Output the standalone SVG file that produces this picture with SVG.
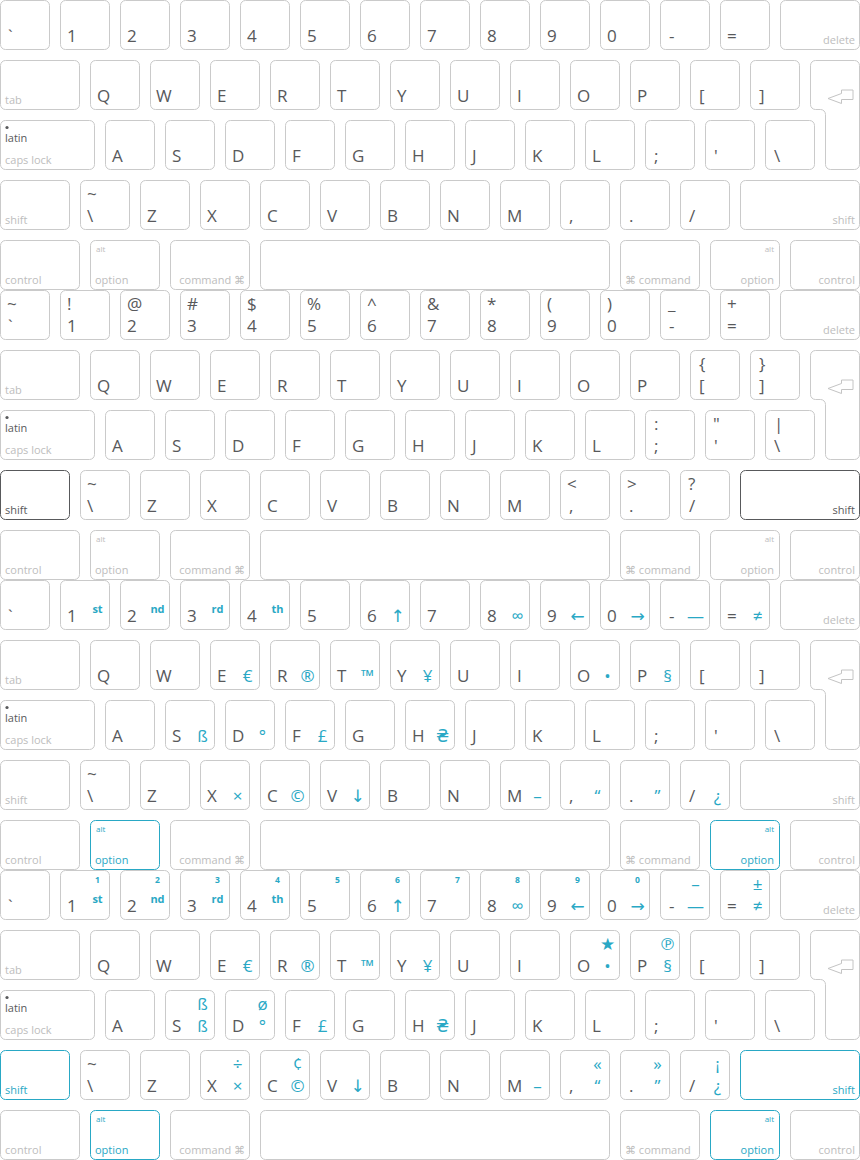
<svg xmlns="http://www.w3.org/2000/svg" width="860" height="1160" viewBox="0 0 860 1160">
<style>
text{font-family:"Open Sans","DejaVu Sans",sans-serif}
.k{fill:#fff;stroke:#cacaca;stroke-width:1}
.kd{fill:#fff;stroke:#58595b;stroke-width:1}
.kt{fill:#fff;stroke:#29a8c5;stroke-width:1}
.ar{fill:none;stroke:#c4c4c4;stroke-width:1;stroke-linejoin:round}
.m{font-size:17px;fill:#58595b}
.g{font-size:11px;fill:#bdbdbd}
.ge{font-size:11px;fill:#bdbdbd;text-anchor:end}
.a{font-size:8px;fill:#bdbdbd}
.ae{font-size:8px;fill:#bdbdbd;text-anchor:end}
.lt{font-size:11px;fill:#58595b}
.dk{fill:#58595b}
.tl{fill:#29a8c5}
.t{font-size:17px;fill:#29a8c5;text-anchor:middle}
.ts{font-size:11px;font-weight:700;fill:#29a8c5;text-anchor:middle}
.tn{font-size:8.5px;font-weight:700;fill:#29a8c5;text-anchor:middle}
</style>
<defs>
<rect id="r50" class="k" x=".5" y=".5" width="49" height="49" rx="5"/>
<rect id="r70" class="k" x=".5" y=".5" width="69" height="49" rx="5"/>
<rect id="r80" class="k" x=".5" y=".5" width="79" height="49" rx="5"/>
<rect id="r95" class="k" x=".5" y=".5" width="94" height="49" rx="5"/>
<rect id="r120" class="k" x=".5" y=".5" width="119" height="49" rx="5"/>
<rect id="r350" class="k" x=".5" y=".5" width="349" height="49" rx="5"/>
<path id="ret" class="k" d="M815.5 60.5H854.5A5 5 0 0 1 859.5 65.5V164.5A5 5 0 0 1 854.5 169.5H830.5A5 5 0 0 1 825.5 164.5V114.5A5 5 0 0 0 820.5 109.5H815.5A5 5 0 0 1 810.5 104.5V65.5A5 5 0 0 1 815.5 60.5Z"/>
<path id="arr" class="ar" d="M828 98.5L841.5 93.5V90H853V99.5H841.5V103.5Z"/>
</defs>

<!-- Keyboard 1 : base layer -->
<g id="kb1">
<g id="kb1-grave" transform="translate(0,0)"><use href="#r50"/><text class="m" x="8" y="42">`</text></g>
<g id="kb1-1" transform="translate(60,0)"><use href="#r50"/><text class="m" x="7" y="42">1</text></g>
<g id="kb1-2" transform="translate(120,0)"><use href="#r50"/><text class="m" x="7" y="42">2</text></g>
<g id="kb1-3" transform="translate(180,0)"><use href="#r50"/><text class="m" x="7" y="42">3</text></g>
<g id="kb1-4" transform="translate(240,0)"><use href="#r50"/><text class="m" x="7" y="42">4</text></g>
<g id="kb1-5" transform="translate(300,0)"><use href="#r50"/><text class="m" x="7" y="42">5</text></g>
<g id="kb1-6" transform="translate(360,0)"><use href="#r50"/><text class="m" x="7" y="42">6</text></g>
<g id="kb1-7" transform="translate(420,0)"><use href="#r50"/><text class="m" x="7" y="42">7</text></g>
<g id="kb1-8" transform="translate(480,0)"><use href="#r50"/><text class="m" x="7" y="42">8</text></g>
<g id="kb1-9" transform="translate(540,0)"><use href="#r50"/><text class="m" x="7" y="42">9</text></g>
<g id="kb1-0" transform="translate(600,0)"><use href="#r50"/><text class="m" x="7" y="42">0</text></g>
<g id="kb1-minus" transform="translate(660,0)"><use href="#r50"/><text class="m" x="9" y="42">-</text></g>
<g id="kb1-equal" transform="translate(720,0)"><use href="#r50"/><text class="m" x="7" y="42">=</text></g>
<g id="kb1-delete" transform="translate(780,0)"><use href="#r80"/><text class="ge" x="75" y="44">delete</text></g>
<g id="kb1-tab" transform="translate(0,60)"><use href="#r80"/><text class="g" x="5" y="44">tab</text></g>
<g id="kb1-q" transform="translate(90,60)"><use href="#r50"/><text class="m" x="7" y="42">Q</text></g>
<g id="kb1-w" transform="translate(150,60)"><use href="#r50"/><text class="m" x="6" y="42">W</text></g>
<g id="kb1-e" transform="translate(210,60)"><use href="#r50"/><text class="m" x="7" y="42">E</text></g>
<g id="kb1-r" transform="translate(270,60)"><use href="#r50"/><text class="m" x="7" y="42">R</text></g>
<g id="kb1-t" transform="translate(330,60)"><use href="#r50"/><text class="m" x="7" y="42">T</text></g>
<g id="kb1-y" transform="translate(390,60)"><use href="#r50"/><text class="m" x="7" y="42">Y</text></g>
<g id="kb1-u" transform="translate(450,60)"><use href="#r50"/><text class="m" x="7" y="42">U</text></g>
<g id="kb1-i" transform="translate(510,60)"><use href="#r50"/><text class="m" x="7" y="42">I</text></g>
<g id="kb1-o" transform="translate(570,60)"><use href="#r50"/><text class="m" x="7" y="42">O</text></g>
<g id="kb1-p" transform="translate(630,60)"><use href="#r50"/><text class="m" x="7" y="42">P</text></g>
<g id="kb1-lbr" transform="translate(690,60)"><use href="#r50"/><text class="m" x="9" y="42">[</text></g>
<g id="kb1-rbr" transform="translate(750,60)"><use href="#r50"/><text class="m" x="9" y="42">]</text></g>
<g id="kb1-return"><use href="#ret"/><use href="#arr"/></g>
<g id="kb1-caps" transform="translate(0,120)"><use href="#r95"/><circle cx="7" cy="7.5" r="1.6" fill="#58595b"/><text class="lt" x="5" y="21.5">latin</text><text class="g" x="5" y="44">caps lock</text></g>
<g id="kb1-a" transform="translate(105,120)"><use href="#r50"/><text class="m" x="7" y="42">A</text></g>
<g id="kb1-s" transform="translate(165,120)"><use href="#r50"/><text class="m" x="7" y="42">S</text></g>
<g id="kb1-d" transform="translate(225,120)"><use href="#r50"/><text class="m" x="7" y="42">D</text></g>
<g id="kb1-f" transform="translate(285,120)"><use href="#r50"/><text class="m" x="7" y="42">F</text></g>
<g id="kb1-g" transform="translate(345,120)"><use href="#r50"/><text class="m" x="7" y="42">G</text></g>
<g id="kb1-h" transform="translate(405,120)"><use href="#r50"/><text class="m" x="7" y="42">H</text></g>
<g id="kb1-j" transform="translate(465,120)"><use href="#r50"/><text class="m" x="7" y="42">J</text></g>
<g id="kb1-k" transform="translate(525,120)"><use href="#r50"/><text class="m" x="7" y="42">K</text></g>
<g id="kb1-l" transform="translate(585,120)"><use href="#r50"/><text class="m" x="7" y="42">L</text></g>
<g id="kb1-semi" transform="translate(645,120)"><use href="#r50"/><text class="m" x="9" y="42">;</text></g>
<g id="kb1-quote" transform="translate(705,120)"><use href="#r50"/><text class="m" x="9" y="42">'</text></g>
<g id="kb1-bslash" transform="translate(765,120)"><use href="#r50"/><text class="m" x="9" y="42">\</text></g>
<g id="kb1-lshift" transform="translate(0,180)"><use href="#r70"/><text class="g" x="5" y="44">shift</text></g>
<g id="kb1-tilde" transform="translate(80,180)"><use href="#r50"/><text class="m" x="7" y="20">~</text><text class="m" x="7" y="42">\</text></g>
<g id="kb1-z" transform="translate(140,180)"><use href="#r50"/><text class="m" x="7" y="42">Z</text></g>
<g id="kb1-x" transform="translate(200,180)"><use href="#r50"/><text class="m" x="7" y="42">X</text></g>
<g id="kb1-c" transform="translate(260,180)"><use href="#r50"/><text class="m" x="7" y="42">C</text></g>
<g id="kb1-v" transform="translate(320,180)"><use href="#r50"/><text class="m" x="7" y="42">V</text></g>
<g id="kb1-b" transform="translate(380,180)"><use href="#r50"/><text class="m" x="7" y="42">B</text></g>
<g id="kb1-n" transform="translate(440,180)"><use href="#r50"/><text class="m" x="7" y="42">N</text></g>
<g id="kb1-m" transform="translate(500,180)"><use href="#r50"/><text class="m" x="7" y="42">M</text></g>
<g id="kb1-comma" transform="translate(560,180)"><use href="#r50"/><text class="m" x="9" y="42">,</text></g>
<g id="kb1-period" transform="translate(620,180)"><use href="#r50"/><text class="m" x="9" y="42">.</text></g>
<g id="kb1-slash" transform="translate(680,180)"><use href="#r50"/><text class="m" x="9" y="42">/</text></g>
<g id="kb1-rshift" transform="translate(740,180)"><use href="#r120"/><text class="ge" x="115" y="44">shift</text></g>
<g id="kb1-lctrl" transform="translate(0,240)"><use href="#r80"/><text class="g" x="5" y="43.5">control</text></g>
<g id="kb1-lopt" transform="translate(90,240)"><use href="#r70"/><text class="a" x="6" y="12">alt</text><text class="g" x="5" y="43.5">option</text></g>
<g id="kb1-lcmd" transform="translate(170,240)"><use href="#r80"/><text class="ge" x="75" y="43.5">command ⌘</text></g>
<g id="kb1-space" transform="translate(260,240)"><use href="#r350"/></g>
<g id="kb1-rcmd" transform="translate(620,240)"><use href="#r80"/><text class="g" x="5" y="43.5">⌘ command</text></g>
<g id="kb1-ropt" transform="translate(710,240)"><use href="#r70"/><text class="ae" x="64" y="12">alt</text><text class="ge" x="64" y="43.5">option</text></g>
<g id="kb1-rctrl" transform="translate(790,240)"><use href="#r70"/><text class="ge" x="65" y="43.5">control</text></g>
</g>

<!-- Keyboard 2 : shift layer -->
<g id="kb2" transform="translate(0,290)">
<g id="kb2-grave" transform="translate(0,0)"><use href="#r50"/><text class="m" x="7" y="20">~</text><text class="m" x="8" y="42">`</text></g>
<g id="kb2-1" transform="translate(60,0)"><use href="#r50"/><text class="m" x="7" y="20">!</text><text class="m" x="7" y="42">1</text></g>
<g id="kb2-2" transform="translate(120,0)"><use href="#r50"/><text class="m" x="7" y="20">@</text><text class="m" x="7" y="42">2</text></g>
<g id="kb2-3" transform="translate(180,0)"><use href="#r50"/><text class="m" x="7" y="20">#</text><text class="m" x="7" y="42">3</text></g>
<g id="kb2-4" transform="translate(240,0)"><use href="#r50"/><text class="m" x="7" y="20">$</text><text class="m" x="7" y="42">4</text></g>
<g id="kb2-5" transform="translate(300,0)"><use href="#r50"/><text class="m" x="7" y="20">%</text><text class="m" x="7" y="42">5</text></g>
<g id="kb2-6" transform="translate(360,0)"><use href="#r50"/><text class="m" x="7" y="20">^</text><text class="m" x="7" y="42">6</text></g>
<g id="kb2-7" transform="translate(420,0)"><use href="#r50"/><text class="m" x="7" y="20">&amp;</text><text class="m" x="7" y="42">7</text></g>
<g id="kb2-8" transform="translate(480,0)"><use href="#r50"/><text class="m" x="7" y="20">*</text><text class="m" x="7" y="42">8</text></g>
<g id="kb2-9" transform="translate(540,0)"><use href="#r50"/><text class="m" x="7" y="20">(</text><text class="m" x="7" y="42">9</text></g>
<g id="kb2-0" transform="translate(600,0)"><use href="#r50"/><text class="m" x="7" y="20">)</text><text class="m" x="7" y="42">0</text></g>
<g id="kb2-minus" transform="translate(660,0)"><use href="#r50"/><text class="m" x="8" y="20">_</text><text class="m" x="9" y="42">-</text></g>
<g id="kb2-equal" transform="translate(720,0)"><use href="#r50"/><text class="m" x="7" y="20">+</text><text class="m" x="7" y="42">=</text></g>
<g id="kb2-delete" transform="translate(780,0)"><use href="#r80"/><text class="ge" x="75" y="44">delete</text></g>
<g id="kb2-tab" transform="translate(0,60)"><use href="#r80"/><text class="g" x="5" y="44">tab</text></g>
<g id="kb2-q" transform="translate(90,60)"><use href="#r50"/><text class="m" x="7" y="42">Q</text></g>
<g id="kb2-w" transform="translate(150,60)"><use href="#r50"/><text class="m" x="6" y="42">W</text></g>
<g id="kb2-e" transform="translate(210,60)"><use href="#r50"/><text class="m" x="7" y="42">E</text></g>
<g id="kb2-r" transform="translate(270,60)"><use href="#r50"/><text class="m" x="7" y="42">R</text></g>
<g id="kb2-t" transform="translate(330,60)"><use href="#r50"/><text class="m" x="7" y="42">T</text></g>
<g id="kb2-y" transform="translate(390,60)"><use href="#r50"/><text class="m" x="7" y="42">Y</text></g>
<g id="kb2-u" transform="translate(450,60)"><use href="#r50"/><text class="m" x="7" y="42">U</text></g>
<g id="kb2-i" transform="translate(510,60)"><use href="#r50"/><text class="m" x="7" y="42">I</text></g>
<g id="kb2-o" transform="translate(570,60)"><use href="#r50"/><text class="m" x="7" y="42">O</text></g>
<g id="kb2-p" transform="translate(630,60)"><use href="#r50"/><text class="m" x="7" y="42">P</text></g>
<g id="kb2-lbr" transform="translate(690,60)"><use href="#r50"/><text class="m" x="9" y="20">{</text><text class="m" x="9" y="42">[</text></g>
<g id="kb2-rbr" transform="translate(750,60)"><use href="#r50"/><text class="m" x="9" y="20">}</text><text class="m" x="9" y="42">]</text></g>
<g id="kb2-return"><use href="#ret"/><use href="#arr"/></g>
<g id="kb2-caps" transform="translate(0,120)"><use href="#r95"/><circle cx="7" cy="7.5" r="1.6" fill="#58595b"/><text class="lt" x="5" y="21.5">latin</text><text class="g" x="5" y="44">caps lock</text></g>
<g id="kb2-a" transform="translate(105,120)"><use href="#r50"/><text class="m" x="7" y="42">A</text></g>
<g id="kb2-s" transform="translate(165,120)"><use href="#r50"/><text class="m" x="7" y="42">S</text></g>
<g id="kb2-d" transform="translate(225,120)"><use href="#r50"/><text class="m" x="7" y="42">D</text></g>
<g id="kb2-f" transform="translate(285,120)"><use href="#r50"/><text class="m" x="7" y="42">F</text></g>
<g id="kb2-g" transform="translate(345,120)"><use href="#r50"/><text class="m" x="7" y="42">G</text></g>
<g id="kb2-h" transform="translate(405,120)"><use href="#r50"/><text class="m" x="7" y="42">H</text></g>
<g id="kb2-j" transform="translate(465,120)"><use href="#r50"/><text class="m" x="7" y="42">J</text></g>
<g id="kb2-k" transform="translate(525,120)"><use href="#r50"/><text class="m" x="7" y="42">K</text></g>
<g id="kb2-l" transform="translate(585,120)"><use href="#r50"/><text class="m" x="7" y="42">L</text></g>
<g id="kb2-semi" transform="translate(645,120)"><use href="#r50"/><text class="m" x="9" y="20">:</text><text class="m" x="9" y="42">;</text></g>
<g id="kb2-quote" transform="translate(705,120)"><use href="#r50"/><text class="m" x="8" y="20">"</text><text class="m" x="9" y="42">'</text></g>
<g id="kb2-bslash" transform="translate(765,120)"><use href="#r50"/><text class="m" x="9" y="20">|</text><text class="m" x="9" y="42">\</text></g>
<g id="kb2-lshift" transform="translate(0,180)"><rect class="kd" x=".5" y=".5" width="69" height="49" rx="5"/><text class="g dk" x="5" y="44">shift</text></g>
<g id="kb2-tilde" transform="translate(80,180)"><use href="#r50"/><text class="m" x="7" y="20">~</text><text class="m" x="7" y="42">\</text></g>
<g id="kb2-z" transform="translate(140,180)"><use href="#r50"/><text class="m" x="7" y="42">Z</text></g>
<g id="kb2-x" transform="translate(200,180)"><use href="#r50"/><text class="m" x="7" y="42">X</text></g>
<g id="kb2-c" transform="translate(260,180)"><use href="#r50"/><text class="m" x="7" y="42">C</text></g>
<g id="kb2-v" transform="translate(320,180)"><use href="#r50"/><text class="m" x="7" y="42">V</text></g>
<g id="kb2-b" transform="translate(380,180)"><use href="#r50"/><text class="m" x="7" y="42">B</text></g>
<g id="kb2-n" transform="translate(440,180)"><use href="#r50"/><text class="m" x="7" y="42">N</text></g>
<g id="kb2-m" transform="translate(500,180)"><use href="#r50"/><text class="m" x="7" y="42">M</text></g>
<g id="kb2-comma" transform="translate(560,180)"><use href="#r50"/><text class="m" x="7" y="20">&lt;</text><text class="m" x="9" y="42">,</text></g>
<g id="kb2-period" transform="translate(620,180)"><use href="#r50"/><text class="m" x="7" y="20">&gt;</text><text class="m" x="9" y="42">.</text></g>
<g id="kb2-slash" transform="translate(680,180)"><use href="#r50"/><text class="m" x="8" y="20">?</text><text class="m" x="9" y="42">/</text></g>
<g id="kb2-rshift" transform="translate(740,180)"><rect class="kd" x=".5" y=".5" width="119" height="49" rx="5"/><text class="ge dk" x="115" y="44">shift</text></g>
<g id="kb2-lctrl" transform="translate(0,240)"><use href="#r80"/><text class="g" x="5" y="43.5">control</text></g>
<g id="kb2-lopt" transform="translate(90,240)"><use href="#r70"/><text class="a" x="6" y="12">alt</text><text class="g" x="5" y="43.5">option</text></g>
<g id="kb2-lcmd" transform="translate(170,240)"><use href="#r80"/><text class="ge" x="75" y="43.5">command ⌘</text></g>
<g id="kb2-space" transform="translate(260,240)"><use href="#r350"/></g>
<g id="kb2-rcmd" transform="translate(620,240)"><use href="#r80"/><text class="g" x="5" y="43.5">⌘ command</text></g>
<g id="kb2-ropt" transform="translate(710,240)"><use href="#r70"/><text class="ae" x="64" y="12">alt</text><text class="ge" x="64" y="43.5">option</text></g>
<g id="kb2-rctrl" transform="translate(790,240)"><use href="#r70"/><text class="ge" x="65" y="43.5">control</text></g>
</g>

<!-- Keyboard 3 : option layer -->
<g id="kb3" transform="translate(0,580)">
<g id="kb3-grave" transform="translate(0,0)"><use href="#r50"/><text class="m" x="8" y="42">`</text></g>
<g id="kb3-1" transform="translate(60,0)"><use href="#r50"/><text class="m" x="7" y="42">1</text><text class="ts" x="37.5" y="33">st</text></g>
<g id="kb3-2" transform="translate(120,0)"><use href="#r50"/><text class="m" x="7" y="42">2</text><text class="ts" x="37.5" y="33">nd</text></g>
<g id="kb3-3" transform="translate(180,0)"><use href="#r50"/><text class="m" x="7" y="42">3</text><text class="ts" x="37.5" y="33">rd</text></g>
<g id="kb3-4" transform="translate(240,0)"><use href="#r50"/><text class="m" x="7" y="42">4</text><text class="ts" x="37.5" y="33">th</text></g>
<g id="kb3-5" transform="translate(300,0)"><use href="#r50"/><text class="m" x="7" y="42">5</text></g>
<g id="kb3-6" transform="translate(360,0)"><use href="#r50"/><text class="m" x="7" y="42">6</text><text class="t" x="37.5" y="42">↑</text></g>
<g id="kb3-7" transform="translate(420,0)"><use href="#r50"/><text class="m" x="7" y="42">7</text></g>
<g id="kb3-8" transform="translate(480,0)"><use href="#r50"/><text class="m" x="7" y="42">8</text><text class="t" x="37.5" y="42">∞</text></g>
<g id="kb3-9" transform="translate(540,0)"><use href="#r50"/><text class="m" x="7" y="42">9</text><text class="t" x="37.5" y="42">←</text></g>
<g id="kb3-0" transform="translate(600,0)"><use href="#r50"/><text class="m" x="7" y="42">0</text><text class="t" x="37.5" y="42">→</text></g>
<g id="kb3-minus" transform="translate(660,0)"><use href="#r50"/><text class="m" x="9" y="42">-</text><text class="t" x="35.5" y="42">—</text></g>
<g id="kb3-equal" transform="translate(720,0)"><use href="#r50"/><text class="m" x="7" y="42">=</text><text class="t" x="37.5" y="42">≠</text></g>
<g id="kb3-delete" transform="translate(780,0)"><use href="#r80"/><text class="ge" x="75" y="44">delete</text></g>
<g id="kb3-tab" transform="translate(0,60)"><use href="#r80"/><text class="g" x="5" y="44">tab</text></g>
<g id="kb3-q" transform="translate(90,60)"><use href="#r50"/><text class="m" x="7" y="42">Q</text></g>
<g id="kb3-w" transform="translate(150,60)"><use href="#r50"/><text class="m" x="6" y="42">W</text></g>
<g id="kb3-e" transform="translate(210,60)"><use href="#r50"/><text class="m" x="7" y="42">E</text><text class="t" x="37.5" y="42">€</text></g>
<g id="kb3-r" transform="translate(270,60)"><use href="#r50"/><text class="m" x="7" y="42">R</text><text class="t" x="37.5" y="42">®</text></g>
<g id="kb3-t" transform="translate(330,60)"><use href="#r50"/><text class="m" x="7" y="42">T</text><text class="t" x="37.5" y="42">™</text></g>
<g id="kb3-y" transform="translate(390,60)"><use href="#r50"/><text class="m" x="7" y="42">Y</text><text class="t" x="37.5" y="42">¥</text></g>
<g id="kb3-u" transform="translate(450,60)"><use href="#r50"/><text class="m" x="7" y="42">U</text></g>
<g id="kb3-i" transform="translate(510,60)"><use href="#r50"/><text class="m" x="7" y="42">I</text></g>
<g id="kb3-o" transform="translate(570,60)"><use href="#r50"/><text class="m" x="7" y="42">O</text><text class="t" x="37.5" y="42">•</text></g>
<g id="kb3-p" transform="translate(630,60)"><use href="#r50"/><text class="m" x="7" y="42">P</text><text class="t" x="37.5" y="42">§</text></g>
<g id="kb3-lbr" transform="translate(690,60)"><use href="#r50"/><text class="m" x="9" y="42">[</text></g>
<g id="kb3-rbr" transform="translate(750,60)"><use href="#r50"/><text class="m" x="9" y="42">]</text></g>
<g id="kb3-return"><use href="#ret"/><use href="#arr"/></g>
<g id="kb3-caps" transform="translate(0,120)"><use href="#r95"/><circle cx="7" cy="7.5" r="1.6" fill="#58595b"/><text class="lt" x="5" y="21.5">latin</text><text class="g" x="5" y="44">caps lock</text></g>
<g id="kb3-a" transform="translate(105,120)"><use href="#r50"/><text class="m" x="7" y="42">A</text></g>
<g id="kb3-s" transform="translate(165,120)"><use href="#r50"/><text class="m" x="7" y="42">S</text><text class="t" x="37.5" y="42">ß</text></g>
<g id="kb3-d" transform="translate(225,120)"><use href="#r50"/><text class="m" x="7" y="42">D</text><text class="t" x="37.5" y="42">°</text></g>
<g id="kb3-f" transform="translate(285,120)"><use href="#r50"/><text class="m" x="7" y="42">F</text><text class="t" x="37.5" y="42">£</text></g>
<g id="kb3-g" transform="translate(345,120)"><use href="#r50"/><text class="m" x="7" y="42">G</text></g>
<g id="kb3-h" transform="translate(405,120)"><use href="#r50"/><text class="m" x="7" y="42">H</text><text class="t" x="37.5" y="42">₴</text></g>
<g id="kb3-j" transform="translate(465,120)"><use href="#r50"/><text class="m" x="7" y="42">J</text></g>
<g id="kb3-k" transform="translate(525,120)"><use href="#r50"/><text class="m" x="7" y="42">K</text></g>
<g id="kb3-l" transform="translate(585,120)"><use href="#r50"/><text class="m" x="7" y="42">L</text></g>
<g id="kb3-semi" transform="translate(645,120)"><use href="#r50"/><text class="m" x="9" y="42">;</text></g>
<g id="kb3-quote" transform="translate(705,120)"><use href="#r50"/><text class="m" x="9" y="42">'</text></g>
<g id="kb3-bslash" transform="translate(765,120)"><use href="#r50"/><text class="m" x="9" y="42">\</text></g>
<g id="kb3-lshift" transform="translate(0,180)"><use href="#r70"/><text class="g" x="5" y="44">shift</text></g>
<g id="kb3-tilde" transform="translate(80,180)"><use href="#r50"/><text class="m" x="7" y="20">~</text><text class="m" x="7" y="42">\</text></g>
<g id="kb3-z" transform="translate(140,180)"><use href="#r50"/><text class="m" x="7" y="42">Z</text></g>
<g id="kb3-x" transform="translate(200,180)"><use href="#r50"/><text class="m" x="7" y="42">X</text><text class="t" x="37.5" y="42">×</text></g>
<g id="kb3-c" transform="translate(260,180)"><use href="#r50"/><text class="m" x="7" y="42">C</text><text class="t" x="37.5" y="42">©</text></g>
<g id="kb3-v" transform="translate(320,180)"><use href="#r50"/><text class="m" x="7" y="42">V</text><text class="t" x="37.5" y="42">↓</text></g>
<g id="kb3-b" transform="translate(380,180)"><use href="#r50"/><text class="m" x="7" y="42">B</text></g>
<g id="kb3-n" transform="translate(440,180)"><use href="#r50"/><text class="m" x="7" y="42">N</text></g>
<g id="kb3-m" transform="translate(500,180)"><use href="#r50"/><text class="m" x="7" y="42">M</text><text class="t" x="37.5" y="42">–</text></g>
<g id="kb3-comma" transform="translate(560,180)"><use href="#r50"/><text class="m" x="9" y="42">,</text><text class="t" x="37.5" y="42">“</text></g>
<g id="kb3-period" transform="translate(620,180)"><use href="#r50"/><text class="m" x="9" y="42">.</text><text class="t" x="37.5" y="42">”</text></g>
<g id="kb3-slash" transform="translate(680,180)"><use href="#r50"/><text class="m" x="9" y="42">/</text><text class="t" x="37.5" y="42">¿</text></g>
<g id="kb3-rshift" transform="translate(740,180)"><use href="#r120"/><text class="ge" x="115" y="44">shift</text></g>
<g id="kb3-lctrl" transform="translate(0,240)"><use href="#r80"/><text class="g" x="5" y="43.5">control</text></g>
<g id="kb3-lopt" transform="translate(90,240)"><rect class="kt" x=".5" y=".5" width="69" height="49" rx="5"/><text class="a tl" x="6" y="12">alt</text><text class="g tl" x="5" y="43.5">option</text></g>
<g id="kb3-lcmd" transform="translate(170,240)"><use href="#r80"/><text class="ge" x="75" y="43.5">command ⌘</text></g>
<g id="kb3-space" transform="translate(260,240)"><use href="#r350"/></g>
<g id="kb3-rcmd" transform="translate(620,240)"><use href="#r80"/><text class="g" x="5" y="43.5">⌘ command</text></g>
<g id="kb3-ropt" transform="translate(710,240)"><rect class="kt" x=".5" y=".5" width="69" height="49" rx="5"/><text class="ae tl" x="64" y="12">alt</text><text class="ge tl" x="64" y="43.5">option</text></g>
<g id="kb3-rctrl" transform="translate(790,240)"><use href="#r70"/><text class="ge" x="65" y="43.5">control</text></g>
</g>

<!-- Keyboard 4 : shift + option layer -->
<g id="kb4" transform="translate(0,870)">
<g id="kb4-grave" transform="translate(0,0)"><use href="#r50"/><text class="m" x="8" y="42">`</text></g>
<g id="kb4-1" transform="translate(60,0)"><use href="#r50"/><text class="m" x="7" y="42">1</text><text class="tn" x="37.5" y="12.5">1</text><text class="ts" x="37.5" y="33">st</text></g>
<g id="kb4-2" transform="translate(120,0)"><use href="#r50"/><text class="m" x="7" y="42">2</text><text class="tn" x="37.5" y="12.5">2</text><text class="ts" x="37.5" y="33">nd</text></g>
<g id="kb4-3" transform="translate(180,0)"><use href="#r50"/><text class="m" x="7" y="42">3</text><text class="tn" x="37.5" y="12.5">3</text><text class="ts" x="37.5" y="33">rd</text></g>
<g id="kb4-4" transform="translate(240,0)"><use href="#r50"/><text class="m" x="7" y="42">4</text><text class="tn" x="37.5" y="12.5">4</text><text class="ts" x="37.5" y="33">th</text></g>
<g id="kb4-5" transform="translate(300,0)"><use href="#r50"/><text class="m" x="7" y="42">5</text><text class="tn" x="37.5" y="12.5">5</text></g>
<g id="kb4-6" transform="translate(360,0)"><use href="#r50"/><text class="m" x="7" y="42">6</text><text class="tn" x="37.5" y="12.5">6</text><text class="t" x="37.5" y="42">↑</text></g>
<g id="kb4-7" transform="translate(420,0)"><use href="#r50"/><text class="m" x="7" y="42">7</text><text class="tn" x="37.5" y="12.5">7</text></g>
<g id="kb4-8" transform="translate(480,0)"><use href="#r50"/><text class="m" x="7" y="42">8</text><text class="tn" x="37.5" y="12.5">8</text><text class="t" x="37.5" y="42">∞</text></g>
<g id="kb4-9" transform="translate(540,0)"><use href="#r50"/><text class="m" x="7" y="42">9</text><text class="tn" x="37.5" y="12.5">9</text><text class="t" x="37.5" y="42">←</text></g>
<g id="kb4-0" transform="translate(600,0)"><use href="#r50"/><text class="m" x="7" y="42">0</text><text class="tn" x="37.5" y="12.5">0</text><text class="t" x="37.5" y="42">→</text></g>
<g id="kb4-minus" transform="translate(660,0)"><use href="#r50"/><text class="m" x="9" y="42">-</text><text class="t" x="35.5" y="20">–</text><text class="t" x="35.5" y="42">—</text></g>
<g id="kb4-equal" transform="translate(720,0)"><use href="#r50"/><text class="m" x="7" y="42">=</text><text class="t" x="37.5" y="20">±</text><text class="t" x="37.5" y="42">≠</text></g>
<g id="kb4-delete" transform="translate(780,0)"><use href="#r80"/><text class="ge" x="75" y="44">delete</text></g>
<g id="kb4-tab" transform="translate(0,60)"><use href="#r80"/><text class="g" x="5" y="44">tab</text></g>
<g id="kb4-q" transform="translate(90,60)"><use href="#r50"/><text class="m" x="7" y="42">Q</text></g>
<g id="kb4-w" transform="translate(150,60)"><use href="#r50"/><text class="m" x="6" y="42">W</text></g>
<g id="kb4-e" transform="translate(210,60)"><use href="#r50"/><text class="m" x="7" y="42">E</text><text class="t" x="37.5" y="42">€</text></g>
<g id="kb4-r" transform="translate(270,60)"><use href="#r50"/><text class="m" x="7" y="42">R</text><text class="t" x="37.5" y="42">®</text></g>
<g id="kb4-t" transform="translate(330,60)"><use href="#r50"/><text class="m" x="7" y="42">T</text><text class="t" x="37.5" y="42">™</text></g>
<g id="kb4-y" transform="translate(390,60)"><use href="#r50"/><text class="m" x="7" y="42">Y</text><text class="t" x="37.5" y="42">¥</text></g>
<g id="kb4-u" transform="translate(450,60)"><use href="#r50"/><text class="m" x="7" y="42">U</text></g>
<g id="kb4-i" transform="translate(510,60)"><use href="#r50"/><text class="m" x="7" y="42">I</text></g>
<g id="kb4-o" transform="translate(570,60)"><use href="#r50"/><text class="m" x="7" y="42">O</text><text class="t" x="37.5" y="20">★</text><text class="t" x="37.5" y="42">•</text></g>
<g id="kb4-p" transform="translate(630,60)"><use href="#r50"/><text class="m" x="7" y="42">P</text><text class="t" x="37.5" y="20">℗</text><text class="t" x="37.5" y="42">§</text></g>
<g id="kb4-lbr" transform="translate(690,60)"><use href="#r50"/><text class="m" x="9" y="42">[</text></g>
<g id="kb4-rbr" transform="translate(750,60)"><use href="#r50"/><text class="m" x="9" y="42">]</text></g>
<g id="kb4-return"><use href="#ret"/><use href="#arr"/></g>
<g id="kb4-caps" transform="translate(0,120)"><use href="#r95"/><circle cx="7" cy="7.5" r="1.6" fill="#58595b"/><text class="lt" x="5" y="21.5">latin</text><text class="g" x="5" y="44">caps lock</text></g>
<g id="kb4-a" transform="translate(105,120)"><use href="#r50"/><text class="m" x="7" y="42">A</text></g>
<g id="kb4-s" transform="translate(165,120)"><use href="#r50"/><text class="m" x="7" y="42">S</text><text class="t" x="37.5" y="20">ß</text><text class="t" x="37.5" y="42">ß</text></g>
<g id="kb4-d" transform="translate(225,120)"><use href="#r50"/><text class="m" x="7" y="42">D</text><text class="t" x="37.5" y="20">ø</text><text class="t" x="37.5" y="42">°</text></g>
<g id="kb4-f" transform="translate(285,120)"><use href="#r50"/><text class="m" x="7" y="42">F</text><text class="t" x="37.5" y="42">£</text></g>
<g id="kb4-g" transform="translate(345,120)"><use href="#r50"/><text class="m" x="7" y="42">G</text></g>
<g id="kb4-h" transform="translate(405,120)"><use href="#r50"/><text class="m" x="7" y="42">H</text><text class="t" x="37.5" y="42">₴</text></g>
<g id="kb4-j" transform="translate(465,120)"><use href="#r50"/><text class="m" x="7" y="42">J</text></g>
<g id="kb4-k" transform="translate(525,120)"><use href="#r50"/><text class="m" x="7" y="42">K</text></g>
<g id="kb4-l" transform="translate(585,120)"><use href="#r50"/><text class="m" x="7" y="42">L</text></g>
<g id="kb4-semi" transform="translate(645,120)"><use href="#r50"/><text class="m" x="9" y="42">;</text></g>
<g id="kb4-quote" transform="translate(705,120)"><use href="#r50"/><text class="m" x="9" y="42">'</text></g>
<g id="kb4-bslash" transform="translate(765,120)"><use href="#r50"/><text class="m" x="9" y="42">\</text></g>
<g id="kb4-lshift" transform="translate(0,180)"><rect class="kt" x=".5" y=".5" width="69" height="49" rx="5"/><text class="g tl" x="5" y="44">shift</text></g>
<g id="kb4-tilde" transform="translate(80,180)"><use href="#r50"/><text class="m" x="7" y="20">~</text><text class="m" x="7" y="42">\</text></g>
<g id="kb4-z" transform="translate(140,180)"><use href="#r50"/><text class="m" x="7" y="42">Z</text></g>
<g id="kb4-x" transform="translate(200,180)"><use href="#r50"/><text class="m" x="7" y="42">X</text><text class="t" x="37.5" y="20">÷</text><text class="t" x="37.5" y="42">×</text></g>
<g id="kb4-c" transform="translate(260,180)"><use href="#r50"/><text class="m" x="7" y="42">C</text><text class="t" x="37.5" y="20">¢</text><text class="t" x="37.5" y="42">©</text></g>
<g id="kb4-v" transform="translate(320,180)"><use href="#r50"/><text class="m" x="7" y="42">V</text><text class="t" x="37.5" y="42">↓</text></g>
<g id="kb4-b" transform="translate(380,180)"><use href="#r50"/><text class="m" x="7" y="42">B</text></g>
<g id="kb4-n" transform="translate(440,180)"><use href="#r50"/><text class="m" x="7" y="42">N</text></g>
<g id="kb4-m" transform="translate(500,180)"><use href="#r50"/><text class="m" x="7" y="42">M</text><text class="t" x="37.5" y="42">–</text></g>
<g id="kb4-comma" transform="translate(560,180)"><use href="#r50"/><text class="m" x="9" y="42">,</text><text class="t" x="37.5" y="20">«</text><text class="t" x="37.5" y="42">“</text></g>
<g id="kb4-period" transform="translate(620,180)"><use href="#r50"/><text class="m" x="9" y="42">.</text><text class="t" x="37.5" y="20">»</text><text class="t" x="37.5" y="42">”</text></g>
<g id="kb4-slash" transform="translate(680,180)"><use href="#r50"/><text class="m" x="9" y="42">/</text><text class="t" x="37.5" y="20">¡</text><text class="t" x="37.5" y="42">¿</text></g>
<g id="kb4-rshift" transform="translate(740,180)"><rect class="kt" x=".5" y=".5" width="119" height="49" rx="5"/><text class="ge tl" x="115" y="44">shift</text></g>
<g id="kb4-lctrl" transform="translate(0,240)"><use href="#r80"/><text class="g" x="5" y="43.5">control</text></g>
<g id="kb4-lopt" transform="translate(90,240)"><rect class="kt" x=".5" y=".5" width="69" height="49" rx="5"/><text class="a tl" x="6" y="12">alt</text><text class="g tl" x="5" y="43.5">option</text></g>
<g id="kb4-lcmd" transform="translate(170,240)"><use href="#r80"/><text class="ge" x="75" y="43.5">command ⌘</text></g>
<g id="kb4-space" transform="translate(260,240)"><use href="#r350"/></g>
<g id="kb4-rcmd" transform="translate(620,240)"><use href="#r80"/><text class="g" x="5" y="43.5">⌘ command</text></g>
<g id="kb4-ropt" transform="translate(710,240)"><rect class="kt" x=".5" y=".5" width="69" height="49" rx="5"/><text class="ae tl" x="64" y="12">alt</text><text class="ge tl" x="64" y="43.5">option</text></g>
<g id="kb4-rctrl" transform="translate(790,240)"><use href="#r70"/><text class="ge" x="65" y="43.5">control</text></g>
</g>
</svg>
